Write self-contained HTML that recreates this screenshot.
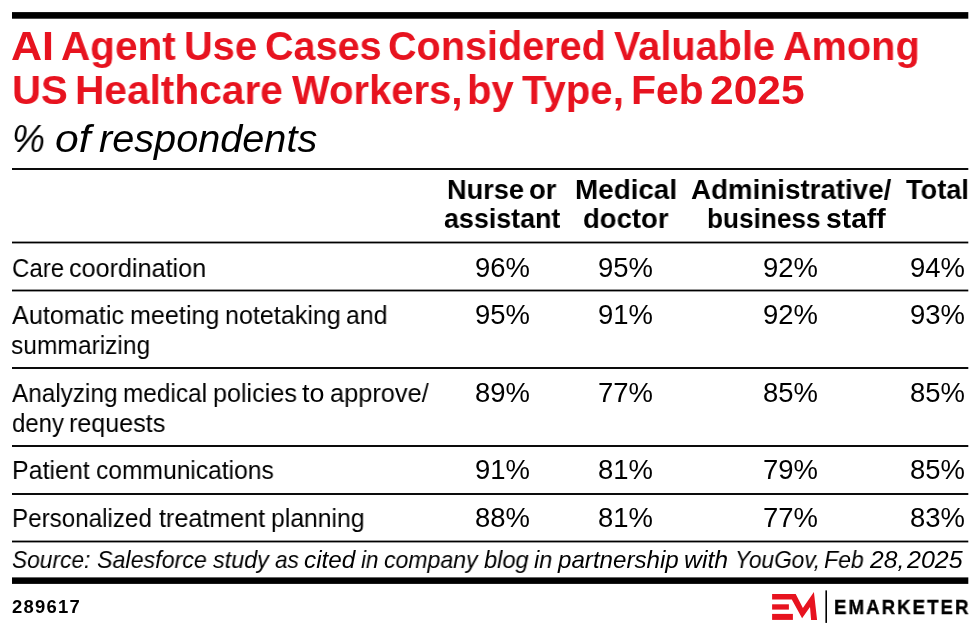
<!DOCTYPE html>
<html><head><meta charset="utf-8"><style>
html,body{margin:0;padding:0;background:#fff;}
body{width:980px;height:634px;position:relative;overflow:hidden;font-family:"Liberation Sans",sans-serif;}
.t{position:absolute;white-space:nowrap;line-height:1;transform-origin:0 0;will-change:transform;}
.t i.bl{display:inline-block;width:0;height:0;vertical-align:baseline;}
svg{position:absolute;left:0;top:0;}
</style></head><body>
<svg width="980" height="634" viewBox="0 0 980 634">
<rect x="12" y="12.1" width="956.3" height="6.6" fill="#000"/>
<rect x="12" y="168.05" width="956.3" height="1.9" fill="#000"/>
<rect x="12" y="241.6" width="956.3" height="1.8" fill="#000"/>
<rect x="12" y="289.6" width="956.3" height="1.8" fill="#000"/>
<rect x="12" y="367.05" width="956.3" height="1.9" fill="#000"/>
<rect x="12" y="445.05" width="956.3" height="1.9" fill="#000"/>
<rect x="12" y="493.05" width="956.3" height="1.9" fill="#000"/>
<rect x="12" y="540.6" width="956.3" height="1.8" fill="#000"/>
<rect x="12" y="577.4" width="956.3" height="6.5" fill="#000"/>
<path d="M772.1 593.9 L795.7 593.9 L802.9 607.9 L813.9 592.1 L817.1 619.9 L811.1 619.9 L810 607.1 L802.1 618.2 L791.8 599.6 L772.1 599.6 Z" fill="#e7131f"/>
<rect x="772.1" y="604.3" width="16.8" height="5.3" fill="#e7131f"/>
<rect x="772.1" y="613.9" width="20.8" height="6" fill="#e7131f"/>
<rect x="825.4" y="590.4" width="1.6" height="32.5" fill="#000"/>
</svg>
<div class="t" id="t1w0" style="left:10.51px;top:25.80px;font-size:41px;font-weight:700;font-style:normal;color:#e7131f;transform:scaleX(1.0508);">AI<i class="bl"></i></div>
<div class="t" id="t1w1" style="left:61.15px;top:25.80px;font-size:41px;font-weight:700;font-style:normal;color:#e7131f;transform:scaleX(0.9876);">Agent<i class="bl"></i></div>
<div class="t" id="t1w2" style="left:184.22px;top:25.80px;font-size:41px;font-weight:700;font-style:normal;color:#e7131f;transform:scaleX(0.9704);">Use<i class="bl"></i></div>
<div class="t" id="t1w3" style="left:264.77px;top:25.80px;font-size:41px;font-weight:700;font-style:normal;color:#e7131f;transform:scaleX(0.9651);">Cases<i class="bl"></i></div>
<div class="t" id="t1w4" style="left:387.52px;top:25.80px;font-size:41px;font-weight:700;font-style:normal;color:#e7131f;transform:scaleX(0.9657);">Considered<i class="bl"></i></div>
<div class="t" id="t1w5" style="left:613.97px;top:25.80px;font-size:41px;font-weight:700;font-style:normal;color:#e7131f;transform:scaleX(0.9678);">Valuable<i class="bl"></i></div>
<div class="t" id="t1w6" style="left:782.76px;top:25.80px;font-size:41px;font-weight:700;font-style:normal;color:#e7131f;transform:scaleX(0.9682);">Among<i class="bl"></i></div>
<div class="t" id="t2w0" style="left:12.06px;top:70.30px;font-size:41px;font-weight:700;font-style:normal;color:#e7131f;transform:scaleX(0.9795);">US<i class="bl"></i></div>
<div class="t" id="t2w1" style="left:74.91px;top:70.30px;font-size:41px;font-weight:700;font-style:normal;color:#e7131f;transform:scaleX(0.9916);">Healthcare<i class="bl"></i></div>
<div class="t" id="t2w2" style="left:291.81px;top:70.30px;font-size:41px;font-weight:700;font-style:normal;color:#e7131f;transform:scaleX(0.9759);">Workers,<i class="bl"></i></div>
<div class="t" id="t2w3" style="left:467.43px;top:70.30px;font-size:41px;font-weight:700;font-style:normal;color:#e7131f;transform:scaleX(0.9782);">by<i class="bl"></i></div>
<div class="t" id="t2w4" style="left:522.17px;top:70.30px;font-size:41px;font-weight:700;font-style:normal;color:#e7131f;transform:scaleX(0.9788);">Type,<i class="bl"></i></div>
<div class="t" id="t2w5" style="left:630.76px;top:70.30px;font-size:41px;font-weight:700;font-style:normal;color:#e7131f;transform:scaleX(0.9972);">Feb<i class="bl"></i></div>
<div class="t" id="t2w6" style="left:710.10px;top:70.30px;font-size:41px;font-weight:700;font-style:normal;color:#e7131f;transform:scaleX(1.0370);">2025<i class="bl"></i></div>
<div class="t" id="stw0" style="left:12.02px;top:120.30px;font-size:38px;font-weight:400;font-style:italic;color:#000;transform:scaleX(0.9754);">%<i class="bl"></i></div>
<div class="t" id="stw1" style="left:54.90px;top:120.30px;font-size:38px;font-weight:400;font-style:italic;color:#000;transform:scaleX(1.1223);">of<i class="bl"></i></div>
<div class="t" id="stw2" style="left:99.32px;top:120.30px;font-size:38px;font-weight:400;font-style:italic;color:#000;transform:scaleX(1.0434);">respondents<i class="bl"></i></div>
<div class="t" id="h1aw0" style="left:447.05px;top:175.60px;font-size:28px;font-weight:700;font-style:normal;color:#000;transform:scaleX(0.9703);">Nurse<i class="bl"></i></div>
<div class="t" id="h1aw1" style="left:529.33px;top:175.60px;font-size:28px;font-weight:700;font-style:normal;color:#000;transform:scaleX(0.9804);">or<i class="bl"></i></div>
<div class="t" id="h1bw0" style="left:443.80px;top:205.41px;font-size:28px;font-weight:700;font-style:normal;color:#000;transform:scaleX(0.9586);">assistant<i class="bl"></i></div>
<div class="t" id="h2aw0" style="left:575.23px;top:175.51px;font-size:28px;font-weight:700;font-style:normal;color:#000;transform:scaleX(0.9939);">Medical<i class="bl"></i></div>
<div class="t" id="h2bw0" style="left:583.03px;top:205.41px;font-size:28px;font-weight:700;font-style:normal;color:#000;transform:scaleX(0.9820);">doctor<i class="bl"></i></div>
<div class="t" id="h3aw0" style="left:690.53px;top:175.51px;font-size:28px;font-weight:700;font-style:normal;color:#000;transform:scaleX(0.9903);">Administrative/<i class="bl"></i></div>
<div class="t" id="h3bw0" style="left:707.22px;top:205.41px;font-size:28px;font-weight:700;font-style:normal;color:#000;transform:scaleX(0.9357);">business<i class="bl"></i></div>
<div class="t" id="h3bw1" style="left:825.57px;top:205.41px;font-size:28px;font-weight:700;font-style:normal;color:#000;transform:scaleX(1.0096);">staff<i class="bl"></i></div>
<div class="t" id="h4aw0" style="left:906.13px;top:175.51px;font-size:28px;font-weight:700;font-style:normal;color:#000;transform:scaleX(0.9710);">Total<i class="bl"></i></div>
<div class="t" id="r0l0w0" style="left:11.77px;top:254.50px;font-size:26.5px;font-weight:400;font-style:normal;color:#000;transform:scaleX(0.9058);">Care<i class="bl"></i></div>
<div class="t" id="r0l0w1" style="left:68.52px;top:254.50px;font-size:26.5px;font-weight:400;font-style:normal;color:#000;transform:scaleX(0.9493);">coordination<i class="bl"></i></div>
<div class="t" id="r1l0w0" style="left:12.41px;top:301.91px;font-size:26.5px;font-weight:400;font-style:normal;color:#000;transform:scaleX(0.9511);">Automatic<i class="bl"></i></div>
<div class="t" id="r1l0w1" style="left:129.58px;top:301.91px;font-size:26.5px;font-weight:400;font-style:normal;color:#000;transform:scaleX(0.9483);">meeting<i class="bl"></i></div>
<div class="t" id="r1l0w2" style="left:225.21px;top:301.91px;font-size:26.5px;font-weight:400;font-style:normal;color:#000;transform:scaleX(0.9468);">notetaking<i class="bl"></i></div>
<div class="t" id="r1l0w3" style="left:345.82px;top:301.91px;font-size:26.5px;font-weight:400;font-style:normal;color:#000;transform:scaleX(0.9379);">and<i class="bl"></i></div>
<div class="t" id="r1l1w0" style="left:11.09px;top:332.00px;font-size:26.5px;font-weight:400;font-style:normal;color:#000;transform:scaleX(0.9265);">summarizing<i class="bl"></i></div>
<div class="t" id="r2l0w0" style="left:12.13px;top:380.00px;font-size:26.5px;font-weight:400;font-style:normal;color:#000;transform:scaleX(0.9175);">Analyzing<i class="bl"></i></div>
<div class="t" id="r2l0w1" style="left:123.10px;top:380.00px;font-size:26.5px;font-weight:400;font-style:normal;color:#000;transform:scaleX(0.9200);">medical<i class="bl"></i></div>
<div class="t" id="r2l0w2" style="left:213.00px;top:380.00px;font-size:26.5px;font-weight:400;font-style:normal;color:#000;transform:scaleX(0.9483);">policies<i class="bl"></i></div>
<div class="t" id="r2l0w3" style="left:302.18px;top:380.00px;font-size:26.5px;font-weight:400;font-style:normal;color:#000;transform:scaleX(1.0125);">to<i class="bl"></i></div>
<div class="t" id="r2l0w4" style="left:329.90px;top:380.00px;font-size:26.5px;font-weight:400;font-style:normal;color:#000;transform:scaleX(0.9574);">approve/<i class="bl"></i></div>
<div class="t" id="r2l1w0" style="left:11.92px;top:410.11px;font-size:26.5px;font-weight:400;font-style:normal;color:#000;transform:scaleX(0.9032);">deny<i class="bl"></i></div>
<div class="t" id="r2l1w1" style="left:68.76px;top:410.10px;font-size:26.5px;font-weight:400;font-style:normal;color:#000;transform:scaleX(0.9468);">requests<i class="bl"></i></div>
<div class="t" id="r3l0w0" style="left:12.01px;top:457.41px;font-size:26.5px;font-weight:400;font-style:normal;color:#000;transform:scaleX(0.9408);">Patient<i class="bl"></i></div>
<div class="t" id="r3l0w1" style="left:96.31px;top:457.41px;font-size:26.5px;font-weight:400;font-style:normal;color:#000;transform:scaleX(0.9284);">communications<i class="bl"></i></div>
<div class="t" id="r4l0w0" style="left:11.63px;top:505.31px;font-size:26.5px;font-weight:400;font-style:normal;color:#000;transform:scaleX(0.9128);">Personalized<i class="bl"></i></div>
<div class="t" id="r4l0w1" style="left:158.95px;top:505.31px;font-size:26.5px;font-weight:400;font-style:normal;color:#000;transform:scaleX(0.9485);">treatment<i class="bl"></i></div>
<div class="t" id="r4l0w2" style="left:270.53px;top:505.31px;font-size:26.5px;font-weight:400;font-style:normal;color:#000;transform:scaleX(0.9336);">planning<i class="bl"></i></div>
<div class="t" id="r0n0" style="left:474.78px;top:254.50px;font-size:27px;font-weight:400;font-style:normal;color:#000;transform:scaleX(1.0170);">96%<i class="bl"></i></div>
<div class="t" id="r0n1" style="left:597.81px;top:254.50px;font-size:27px;font-weight:400;font-style:normal;color:#000;transform:scaleX(1.0170);">95%<i class="bl"></i></div>
<div class="t" id="r0n2" style="left:763.08px;top:254.50px;font-size:27px;font-weight:400;font-style:normal;color:#000;transform:scaleX(1.0170);">92%<i class="bl"></i></div>
<div class="t" id="r0n3" style="left:909.98px;top:254.50px;font-size:27px;font-weight:400;font-style:normal;color:#000;transform:scaleX(1.0170);">94%<i class="bl"></i></div>
<div class="t" id="r1n0" style="left:475.08px;top:301.91px;font-size:27px;font-weight:400;font-style:normal;color:#000;transform:scaleX(1.0170);">95%<i class="bl"></i></div>
<div class="t" id="r1n1" style="left:597.96px;top:301.91px;font-size:27px;font-weight:400;font-style:normal;color:#000;transform:scaleX(1.0170);">91%<i class="bl"></i></div>
<div class="t" id="r1n2" style="left:762.95px;top:301.91px;font-size:27px;font-weight:400;font-style:normal;color:#000;transform:scaleX(1.0170);">92%<i class="bl"></i></div>
<div class="t" id="r1n3" style="left:909.98px;top:301.91px;font-size:27px;font-weight:400;font-style:normal;color:#000;transform:scaleX(1.0170);">93%<i class="bl"></i></div>
<div class="t" id="r2n0" style="left:475.00px;top:380.00px;font-size:27px;font-weight:400;font-style:normal;color:#000;transform:scaleX(1.0170);">89%<i class="bl"></i></div>
<div class="t" id="r2n1" style="left:597.87px;top:380.00px;font-size:27px;font-weight:400;font-style:normal;color:#000;transform:scaleX(1.0170);">77%<i class="bl"></i></div>
<div class="t" id="r2n2" style="left:763.33px;top:380.00px;font-size:27px;font-weight:400;font-style:normal;color:#000;transform:scaleX(1.0170);">85%<i class="bl"></i></div>
<div class="t" id="r2n3" style="left:909.75px;top:380.00px;font-size:27px;font-weight:400;font-style:normal;color:#000;transform:scaleX(1.0170);">85%<i class="bl"></i></div>
<div class="t" id="r3n0" style="left:475.08px;top:457.41px;font-size:27px;font-weight:400;font-style:normal;color:#000;transform:scaleX(1.0170);">91%<i class="bl"></i></div>
<div class="t" id="r3n1" style="left:598.29px;top:457.41px;font-size:27px;font-weight:400;font-style:normal;color:#000;transform:scaleX(1.0170);">81%<i class="bl"></i></div>
<div class="t" id="r3n2" style="left:762.96px;top:457.41px;font-size:27px;font-weight:400;font-style:normal;color:#000;transform:scaleX(1.0170);">79%<i class="bl"></i></div>
<div class="t" id="r3n3" style="left:909.84px;top:457.41px;font-size:27px;font-weight:400;font-style:normal;color:#000;transform:scaleX(1.0170);">85%<i class="bl"></i></div>
<div class="t" id="r4n0" style="left:475.00px;top:505.31px;font-size:27px;font-weight:400;font-style:normal;color:#000;transform:scaleX(1.0170);">88%<i class="bl"></i></div>
<div class="t" id="r4n1" style="left:598.14px;top:505.31px;font-size:27px;font-weight:400;font-style:normal;color:#000;transform:scaleX(1.0170);">81%<i class="bl"></i></div>
<div class="t" id="r4n2" style="left:763.09px;top:505.31px;font-size:27px;font-weight:400;font-style:normal;color:#000;transform:scaleX(1.0170);">77%<i class="bl"></i></div>
<div class="t" id="r4n3" style="left:909.75px;top:505.31px;font-size:27px;font-weight:400;font-style:normal;color:#000;transform:scaleX(1.0170);">83%<i class="bl"></i></div>
<div class="t" id="srcw0" style="left:11.79px;top:547.61px;font-size:24px;font-weight:400;font-style:italic;color:#000;transform:scaleX(0.9472);">Source:<i class="bl"></i></div>
<div class="t" id="srcw1" style="left:96.77px;top:547.60px;font-size:24px;font-weight:400;font-style:italic;color:#000;transform:scaleX(0.9688);">Salesforce<i class="bl"></i></div>
<div class="t" id="srcw2" style="left:212.79px;top:547.60px;font-size:24px;font-weight:400;font-style:italic;color:#000;transform:scaleX(0.9739);">study<i class="bl"></i></div>
<div class="t" id="srcw3" style="left:275.44px;top:547.61px;font-size:24px;font-weight:400;font-style:italic;color:#000;transform:scaleX(0.9422);">as<i class="bl"></i></div>
<div class="t" id="srcw4" style="left:304.44px;top:547.61px;font-size:24px;font-weight:400;font-style:italic;color:#000;transform:scaleX(1.0133);">cited<i class="bl"></i></div>
<div class="t" id="srcw5" style="left:360.96px;top:547.60px;font-size:24px;font-weight:400;font-style:italic;color:#000;transform:scaleX(0.9332);">in<i class="bl"></i></div>
<div class="t" id="srcw6" style="left:383.84px;top:547.60px;font-size:24px;font-weight:400;font-style:italic;color:#000;transform:scaleX(0.9606);">company<i class="bl"></i></div>
<div class="t" id="srcw7" style="left:484.39px;top:547.61px;font-size:24px;font-weight:400;font-style:italic;color:#000;transform:scaleX(0.9836);">blog<i class="bl"></i></div>
<div class="t" id="srcw8" style="left:534.13px;top:547.60px;font-size:24px;font-weight:400;font-style:italic;color:#000;transform:scaleX(0.9820);">in<i class="bl"></i></div>
<div class="t" id="srcw9" style="left:558.16px;top:547.60px;font-size:24px;font-weight:400;font-style:italic;color:#000;transform:scaleX(1.0055);">partnership<i class="bl"></i></div>
<div class="t" id="srcw10" style="left:684.49px;top:547.60px;font-size:24px;font-weight:400;font-style:italic;color:#000;transform:scaleX(1.0349);">with<i class="bl"></i></div>
<div class="t" id="srcw11" style="left:735.05px;top:547.60px;font-size:24px;font-weight:400;font-style:italic;color:#000;transform:scaleX(0.9434);">YouGov,<i class="bl"></i></div>
<div class="t" id="srcw12" style="left:823.59px;top:547.61px;font-size:24px;font-weight:400;font-style:italic;color:#000;transform:scaleX(0.9604);">Feb<i class="bl"></i></div>
<div class="t" id="srcw13" style="left:869.53px;top:547.61px;font-size:24px;font-weight:400;font-style:italic;color:#000;transform:scaleX(1.0256);">28,<i class="bl"></i></div>
<div class="t" id="srcw14" style="left:907.02px;top:547.61px;font-size:24px;font-weight:400;font-style:italic;color:#000;transform:scaleX(1.0425);">2025<i class="bl"></i></div>
<div class="t" id="id" style="left:11.84px;top:599.01px;font-size:17.5px;font-weight:700;font-style:normal;color:#000;transform:scaleX(1.0540);letter-spacing:1.2px;">289617<i class="bl"></i></div>
<div class="t" id="brand" style="left:834.21px;top:598.00px;font-size:19.5px;font-weight:700;font-style:normal;color:#000;transform:scaleX(0.9532);letter-spacing:2.2px;-webkit-text-stroke:0.35px #000;">EMARKETER<i class="bl"></i></div>
</body></html>
